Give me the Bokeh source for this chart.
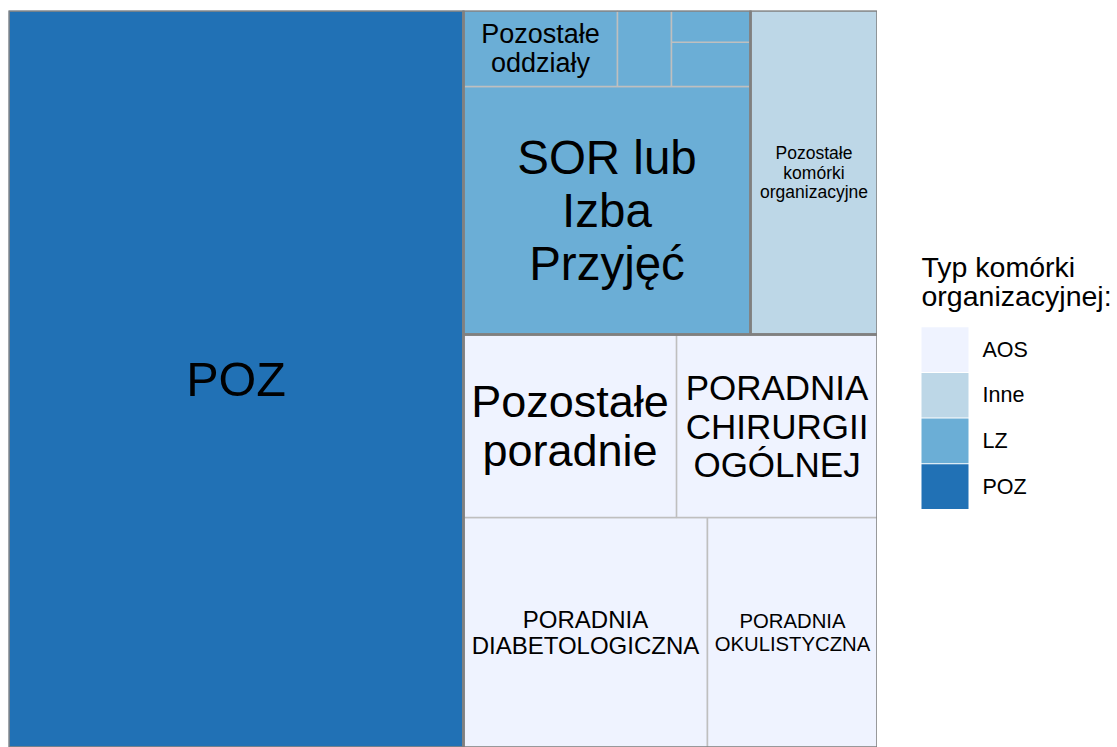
import textwrap
from bokeh.plotting import figure
from bokeh.models import Range1d, ColumnDataSource
from bokeh.layouts import row
from bokeh.core.properties import value
from bokeh.embed import file_html
from bokeh.resources import INLINE

# ---------------- data ----------------
legend_categories = ["AOS", "Inne", "LZ", "POZ"]
legend_title_lines = ["Typ komórki", "organizacyjnej:"]

sub_names = ["POZ", "SOR lub Izba Przyjęć", "Pozostałe oddziały",
             "Oddział 1", "Oddział 2", "Oddział 3",
             "Pozostałe komórki organizacyjne",
             "PORADNIA DIABETOLOGICZNA", "PORADNIA OKULISTYCZNA",
             "Pozostałe poradnie", "PORADNIA CHIRURGII OGÓLNEJ"]
sub_groups = ["POZ", "LZ", "LZ", "LZ", "LZ", "LZ", "Inne",
              "AOS", "AOS", "AOS", "AOS"]
sub_values = [335335, 71176, 11704, 4104, 3500, 2504, 41148,
              56105, 39100, 39000, 36777]

# ---------------- style ----------------
palette = {"AOS": "#eff3ff", "Inne": "#bdd7e7", "LZ": "#6baed6", "POZ": "#2171b5"}
FONT = "Liberation Sans"
# label -> (font size px, wrap width in characters)
label_style = {
    "POZ": (48.5, 10),
    "SOR lub Izba Przyjęć": (47.5, 7),
    "Pozostałe oddziały": (27, 9),
    "Pozostałe komórki organizacyjne": (17.5, 13),
    "PORADNIA DIABETOLOGICZNA": (24, 15),
    "PORADNIA OKULISTYCZNA": (20.3, 12),
    "Pozostałe poradnie": (45, 9),
    "PORADNIA CHIRURGII OGÓLNEJ": (35, 9),
}
LINE_H = 1.11


# ---------------- squarified treemap ----------------
def _worst(row_areas, side):
    s = sum(row_areas)
    t = s / side
    w = 0
    for a in row_areas:
        l = a / t
        w = max(w, t / l, l / t)
    return w


def squarify(vals, x, y, w, h):
    order = sorted(range(len(vals)), key=lambda i: -vals[i])
    total = float(sum(vals))
    areas = [(vals[i] / total) * w * h for i in order]
    rects = [None] * len(vals)
    k = 0
    while k < len(areas):
        rest = areas[k:]
        if len(rest) == 1:
            rects[order[k]] = (x, y, w, h)
            break
        vertical = w >= h
        side = h if vertical else w
        rw = [rest[0]]
        j = 1
        while j < len(rest) and _worst(rw + [rest[j]], side) <= _worst(rw, side):
            rw.append(rest[j])
            j += 1
        t = sum(rw) / side
        pos = 0.0
        for n, a in enumerate(rw):
            l = a / t
            if vertical:
                rects[order[k + n]] = (x, y + pos, t, l)
            else:
                rects[order[k + n]] = (x + pos, y, l, t)
            pos += l
        if vertical:
            x += t
            w -= t
        else:
            y += t
            h -= t
        k += j
    return rects


group_names = []
for g in sub_groups:
    if g not in group_names:
        group_names.append(g)
group_values = [sum(v for v, g in zip(sub_values, sub_groups) if g == gn) for gn in group_names]
group_rects = squarify(group_values, 0.0, 0.0, 1.0, 1.0)

sub_rects = [None] * len(sub_names)
for gn, gr in zip(group_names, group_rects):
    idx = [i for i, g in enumerate(sub_groups) if g == gn]
    rs = squarify([sub_values[i] for i in idx], *gr)
    for i, r in zip(idx, rs):
        sub_rects[i] = r

sub_src = ColumnDataSource(dict(
    left=[r[0] for r in sub_rects], right=[r[0] + r[2] for r in sub_rects],
    bottom=[r[1] for r in sub_rects], top=[r[1] + r[3] for r in sub_rects],
    color=[palette[g] for g in sub_groups], name=sub_names, group=sub_groups,
    value=sub_values))
grp_src = ColumnDataSource(dict(
    left=[r[0] for r in group_rects], right=[r[0] + r[2] for r in group_rects],
    bottom=[r[1] for r in group_rects], top=[r[1] + r[3] for r in group_rects]))

lx, ly, lt, loff, lfs = [], [], [], [], []
for name, r in zip(sub_names, sub_rects):
    if name not in label_style:
        continue
    fs, ww = label_style[name]
    lines = textwrap.wrap(name, ww)
    n = len(lines)
    for i, line in enumerate(lines):
        lx.append(r[0] + r[2] / 2)
        ly.append(r[1] + r[3] / 2)
        lt.append(line)
        loff.append((i - (n - 1) / 2) * fs * LINE_H)
        lfs.append(f"{fs}px")
lab_src = ColumnDataSource(dict(x=lx, y=ly, text=lt, yoff=loff, fs=lfs))

# ---------------- treemap figure ----------------
p = figure(width=877, height=747, output_backend="svg", toolbar_location=None,
           title=None,
           x_range=Range1d(0, 1), y_range=Range1d(0, 1),
           x_axis_location=None, y_axis_location=None,
           min_border_top=10, min_border_bottom=0, min_border_left=8, min_border_right=0)
p.grid.visible = False
p.outline_line_color = None
p.background_fill_color = "white"

p.quad(left="left", right="right", bottom="bottom", top="top", source=sub_src,
       fill_color="color", line_color="#bfbfbf", line_width=1.5)
p.quad(left="left", right="right", bottom="bottom", top="top", source=grp_src,
       fill_color=None, line_color="#808080", line_width=2.5)
p.text(x="x", y="y", text="text", y_offset="yoff", source=lab_src,
       text_font=value(FONT), text_font_size="fs", text_color="black",
       text_align="center", text_baseline="middle")

# ---------------- legend figure ----------------
LW, LH = 240, 747
q = figure(width=LW, height=LH, output_backend="svg", toolbar_location=None,
           title=None,
           x_range=Range1d(0, LW), y_range=Range1d(LH, 0),
           x_axis_location=None, y_axis_location=None,
           min_border=0, min_border_top=0, min_border_bottom=0,
           min_border_left=0, min_border_right=0)
q.grid.visible = False
q.outline_line_color = None

key_top, key_pitch, key_h, key_x, key_w = 321, 46.3, 45.3, 44, 47
nk = len(legend_categories)
ksrc = ColumnDataSource(dict(
    left=[key_x] * nk,
    right=[key_x + key_w] * nk,
    top=[key_top + i * key_pitch for i in range(nk)],
    bottom=[key_top + i * key_pitch + key_h for i in range(nk)],
    color=[palette[c] for c in legend_categories],
    label=legend_categories,
    ly=[key_top + i * key_pitch + key_h / 2 for i in range(nk)],
    lx=[key_x + 61] * nk))
q.quad(left="left", right="right", top="top", bottom="bottom", source=ksrc,
       fill_color="color", line_color=None)
q.text(x="lx", y="ly", text="label", source=ksrc, text_font=value(FONT),
       text_font_size="21.5px", text_baseline="middle", text_align="left",
       text_color="black")
q.text(x=[44, 44], y=[260, 289], text=legend_title_lines, text_font=value(FONT),
       text_font_size="28.5px", text_baseline="middle", text_align="left",
       text_color="black")

layout = row(p, q)
open("out.html", "w").write(file_html(layout, INLINE))
